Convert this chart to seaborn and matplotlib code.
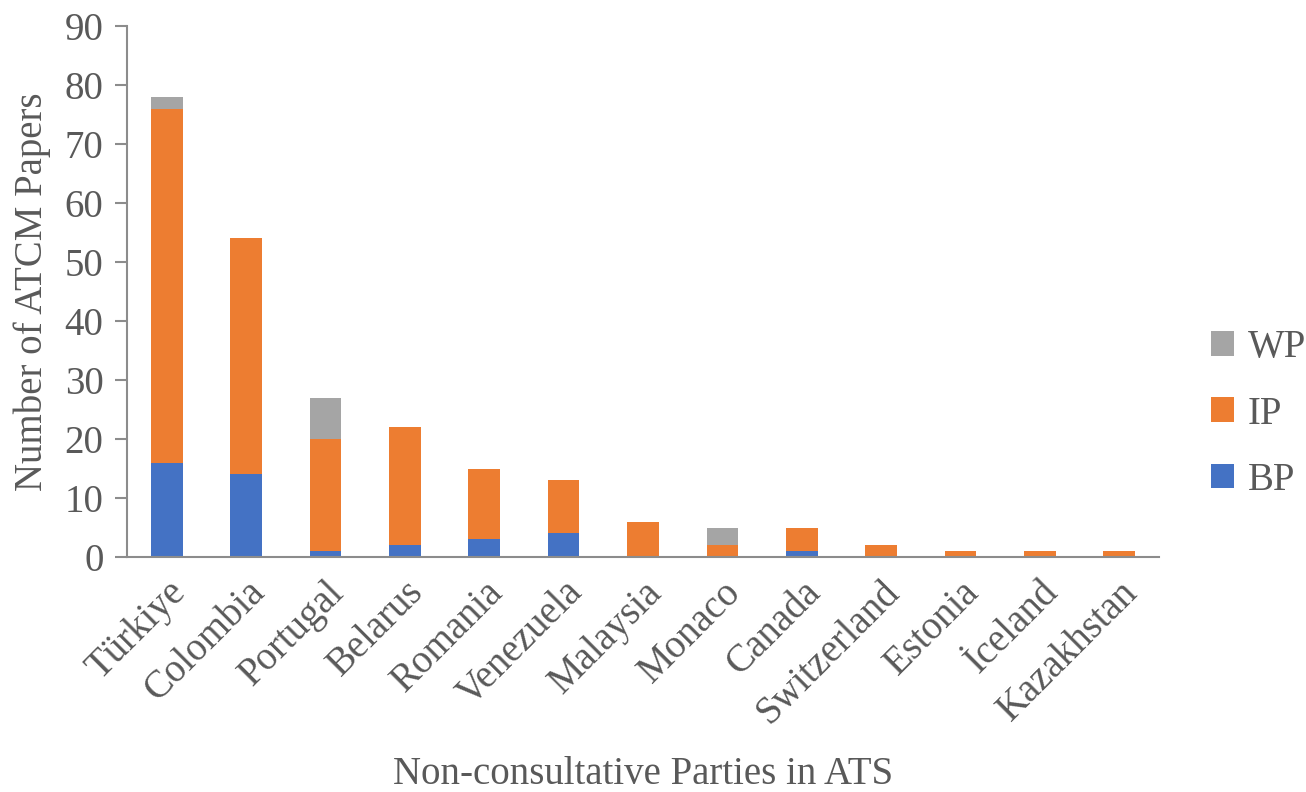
import numpy as np
import pandas as pd
import matplotlib
matplotlib.use("Agg")
import matplotlib.pyplot as plt
import seaborn as sns
from matplotlib.patches import Patch

countries = ["Türkiye", "Colombia", "Portugal", "Belarus", "Romania", "Venezuela",
             "Malaysia", "Monaco", "Canada", "Switzerland", "Estonia", "İceland", "Kazakhstan"]
bp = [16, 14, 1, 2, 3, 4, 0, 0, 1, 0, 0, 0, 0]
ip = [60, 40, 19, 20, 12, 9, 6, 2, 4, 2, 1, 1, 1]
wp = [2, 0, 7, 0, 0, 0, 0, 3, 0, 0, 0, 0, 0]
y_ticks = [0, 10, 20, 30, 40, 50, 60, 70, 80, 90]

colors = {"WP": "#A5A5A5", "IP": "#ED7D31", "BP": "#4472C4"}
axis_grey = "#8C8C8C"
text_grey = "#595959"
fs = 28

df = pd.DataFrame({"country": countries, "BP": bp, "IP": ip, "WP": wp})
df["BP_top"] = df["BP"]
df["IP_top"] = df["BP"] + df["IP"]
df["WP_top"] = df["IP_top"] + df["WP"]

sns.set_style("white")
plt.rcParams["font.family"] = ["Liberation Serif", "DejaVu Serif"]

fig = plt.figure(figsize=(13.06, 7.92), dpi=100)
ax = fig.add_axes([127 / 1306, 1 - 557 / 792, (1159 - 127) / 1306, (557 - 26) / 792])

# stacked bars: draw cumulative heights from the top layer down
for col, key in [("WP_top", "WP"), ("IP_top", "IP"), ("BP_top", "BP")]:
    sns.barplot(data=df, x="country", y=col, color=colors[key], width=0.4,
                saturation=1, ax=ax, order=countries, edgecolor="none", linewidth=0)

ax.set_ylim(0, 90)
ax.set_xlim(-0.5, len(countries) - 0.5)
ax.set_yticks(y_ticks)
ax.set_yticklabels([str(t) for t in y_ticks], fontsize=fs, color=text_grey)
ax.set_xticks(range(len(countries)))
ax.set_xticklabels(countries, rotation=45, ha="right", rotation_mode="anchor",
                   fontsize=fs, color=text_grey)
ax.tick_params(axis="y", direction="out", length=9, width=1.5, color=axis_grey, pad=8, left=True)
ax.tick_params(axis="x", length=0, pad=12)

for side in ["top", "right"]:
    ax.spines[side].set_visible(False)
for side in ["left", "bottom"]:
    ax.spines[side].set_color(axis_grey)
    ax.spines[side].set_linewidth(1.5)

ax.set_xlabel("Non-consultative Parties in ATS", fontsize=fs, color=text_grey, labelpad=18)
ax.set_ylabel("Number of ATCM Papers", fontsize=fs, color=text_grey, labelpad=10)

handles = [Patch(facecolor=colors[k], edgecolor="none", label=k) for k in ["WP", "IP", "BP"]]
fig.legend(handles=handles, loc="center left", bbox_to_anchor=(1203 / 1306, 1 - 414 / 792),
           frameon=False, fontsize=fs, labelcolor=text_grey, handlelength=0.6,
           handleheight=0.6, handletextpad=0.35, labelspacing=0.75, borderaxespad=0,
           borderpad=0.2)

fig.savefig("out.png", dpi=100)
